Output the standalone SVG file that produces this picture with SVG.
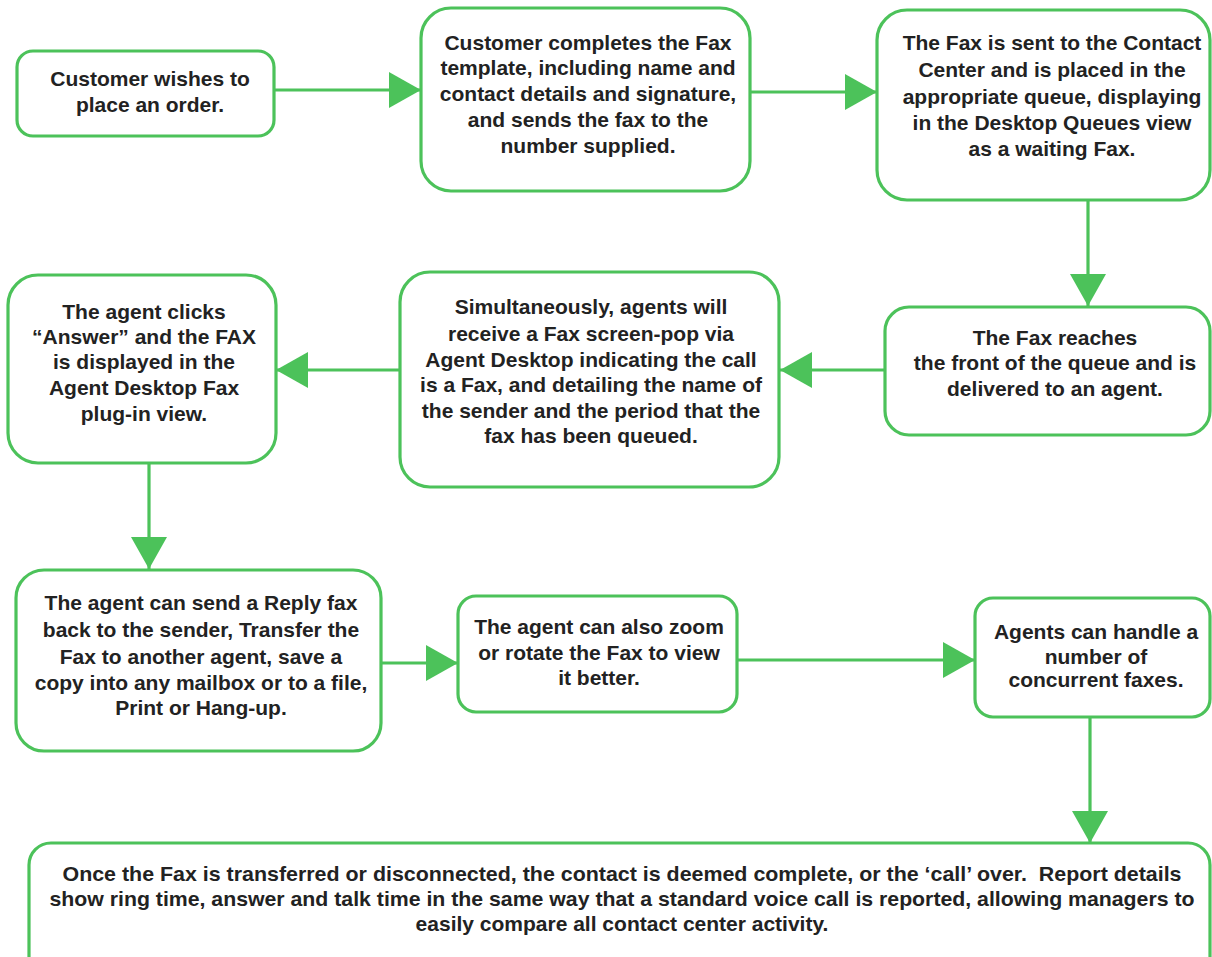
<svg xmlns="http://www.w3.org/2000/svg" width="1212" height="957" viewBox="0 0 1212 957">
<defs>
<style>
.box{fill:#ffffff;stroke:#4cc25a;stroke-width:3.2}
.t{font-family:"Liberation Sans",Arial,sans-serif;font-weight:bold;font-size:21px;fill:#222222;text-anchor:middle}
.c{fill:none;stroke:#4cc25a;stroke-width:3.2}
</style>
<marker id="ah" markerUnits="userSpaceOnUse" markerWidth="34" markerHeight="36" viewBox="0 0 32 36" refX="32" refY="18" orient="auto">
<path d="M0,0 L32,18 L0,36 Z" fill="#4cc25a"/>
</marker>
</defs>
<rect width="1212" height="957" fill="#ffffff"/>
<g id="connectors">
<line class="c" x1="274" y1="90" x2="421" y2="90" marker-end="url(#ah)"/>
<line class="c" x1="750" y1="92" x2="877" y2="92" marker-end="url(#ah)"/>
<line class="c" x1="1088" y1="200" x2="1088" y2="306" marker-end="url(#ah)"/>
<line class="c" x1="885" y1="370" x2="780" y2="370" marker-end="url(#ah)"/>
<line class="c" x1="400" y1="370" x2="276" y2="370" marker-end="url(#ah)"/>
<line class="c" x1="149" y1="463" x2="149" y2="569" marker-end="url(#ah)"/>
<line class="c" x1="381" y1="663" x2="458" y2="663" marker-end="url(#ah)"/>
<line class="c" x1="737" y1="660" x2="975" y2="660" marker-end="url(#ah)"/>
<line class="c" x1="1090" y1="717" x2="1090" y2="843" marker-end="url(#ah)"/>
</g>
<g id="n1">
<rect class="box" x="17" y="51" width="257" height="85" rx="16"/>
<text class="t" x="150" y="86">Customer wishes to</text>
<text class="t" x="150" y="112">place an order.</text>
</g>
<g id="n2">
<rect class="box" x="421" y="8" width="329" height="183" rx="30"/>
<text class="t" x="588" y="50">Customer completes the Fax</text>
<text class="t" x="588" y="75">template, including name and</text>
<text class="t" x="588" y="101">contact details and signature,</text>
<text class="t" x="588" y="127">and sends the fax to the</text>
<text class="t" x="588" y="153">number supplied.</text>
</g>
<g id="n3">
<rect class="box" x="877" y="10" width="333" height="190" rx="30"/>
<text class="t" x="1052" y="50">The Fax is sent to the Contact</text>
<text class="t" x="1052" y="77">Center and is placed in the</text>
<text class="t" x="1052" y="104">appropriate queue, displaying</text>
<text class="t" x="1052" y="130">in the Desktop Queues view</text>
<text class="t" x="1052" y="156">as a waiting Fax.</text>
</g>
<g id="n4">
<rect class="box" x="885" y="307" width="325" height="128" rx="24"/>
<text class="t" x="1055" y="345">The Fax reaches</text>
<text class="t" x="1055" y="370">the front of the queue and is</text>
<text class="t" x="1055" y="396">delivered to an agent.</text>
</g>
<g id="n5">
<rect class="box" x="400" y="272" width="379" height="215" rx="30"/>
<text class="t" x="591" y="314">Simultaneously, agents will</text>
<text class="t" x="591" y="341">receive a Fax screen-pop via</text>
<text class="t" x="591" y="367">Agent Desktop indicating the call</text>
<text class="t" x="591" y="392">is a Fax, and detailing the name of</text>
<text class="t" x="591" y="418">the sender and the period that the</text>
<text class="t" x="591" y="443">fax has been queued.</text>
</g>
<g id="n6">
<rect class="box" x="8" y="275" width="268" height="188" rx="30"/>
<text class="t" x="144" y="319">The agent clicks</text>
<text class="t" x="144" y="344">“Answer” and the FAX</text>
<text class="t" x="144" y="369">is displayed in the</text>
<text class="t" x="144" y="395">Agent Desktop Fax</text>
<text class="t" x="144" y="421">plug-in view.</text>
</g>
<g id="n7">
<rect class="box" x="16" y="570" width="365" height="181" rx="28"/>
<text class="t" x="201" y="610">The agent can send a Reply fax</text>
<text class="t" x="201" y="637">back to the sender, Transfer the</text>
<text class="t" x="201" y="664">Fax to another agent, save a</text>
<text class="t" x="201" y="690">copy into any mailbox or to a file,</text>
<text class="t" x="201" y="715">Print or Hang-up.</text>
</g>
<g id="n8">
<rect class="box" x="458" y="596" width="279" height="116" rx="18"/>
<text class="t" x="599" y="634">The agent can also zoom</text>
<text class="t" x="599" y="660">or rotate the Fax to view</text>
<text class="t" x="599" y="685">it better.</text>
</g>
<g id="n9">
<rect class="box" x="975" y="598" width="235" height="119" rx="18"/>
<text class="t" x="1096" y="639">Agents can handle a</text>
<text class="t" x="1096" y="664">number of</text>
<text class="t" x="1096" y="687">concurrent faxes.</text>
</g>
<g id="n10">
<rect class="box" x="29" y="843" width="1181" height="140" rx="22"/>
<text class="t" x="622" y="881" textLength="1119" lengthAdjust="spacingAndGlyphs">Once the Fax is transferred or disconnected, the contact is deemed complete, or the ‘call’ over.&#160; Report details</text>
<text class="t" x="622" y="906" textLength="1145" lengthAdjust="spacingAndGlyphs">show ring time, answer and talk time in the same way that a standard voice call is reported, allowing managers to</text>
<text class="t" x="622" y="931">easily compare all contact center activity.</text>
</g>
</svg>
